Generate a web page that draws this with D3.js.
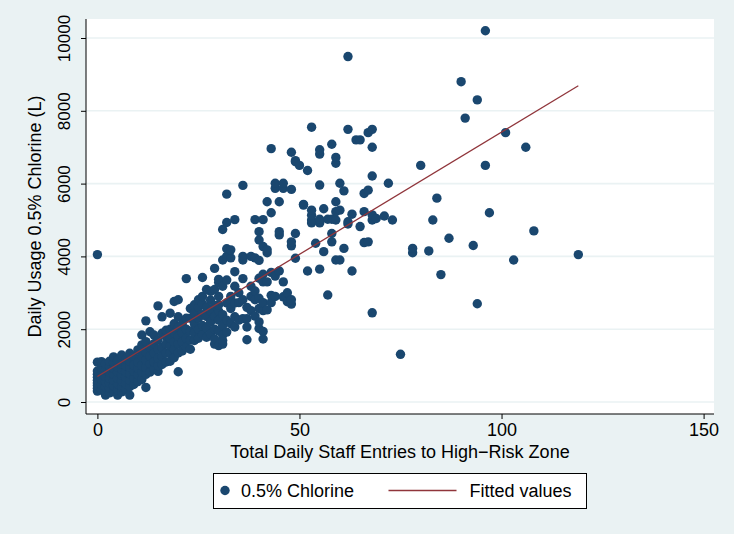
<!DOCTYPE html>
<html>
<head>
<meta charset="utf-8">
<script src="https://cdn.jsdelivr.net/npm/d3@7"></script>
<style>
  html, body { margin: 0; padding: 0; background: #EAF2F3; }
  svg { display: block; }
  text { font-family: "Liberation Sans", Arial, sans-serif; fill: #000; }
</style>
</head>
<body>
<svg id="chart" width="734" height="534"></svg>
<script>
// ---- data ----
const xTicks = [0, 50, 100, 150];
const yTicks = [0, 2000, 4000, 6000, 8000, 10000];
const xTitle = "Total Daily Staff Entries to High\u2212Risk Zone";
const yTitle = "Daily Usage 0.5% Chlorine (L)";
const seriesNames = ["0.5% Chlorine", "Fitted values"];
// fitted regression line endpoints [entries, litres]
const fittedX = [0, 119];
const fittedY = [700, 8690];
// observations: [total daily staff entries, daily usage (L)]
const chlorine = [
[0,300],[0,380],[0,450],[0,520],[0,600],[0,680],[0,760],[0,850],[0,1095],[0,4050],
[1,330],[1,480],[1,620],[1,780],[1,950],[1,1110],
[2,190],[2,300],[2,420],[2,560],[2,700],[2,880],[2,1050],
[3,250],[3,380],[3,520],[3,650],[3,820],[3,980],[3,1120],
[4,300],[4,450],[4,600],[4,760],[4,920],[4,1080],[4,1240],
[5,190],[5,330],[5,500],[5,650],[5,820],[5,960],[5,1150],
[6,280],[6,420],[6,580],[6,740],[6,900],[6,1050],[6,1290],
[7,350],[7,500],[7,680],[7,830],[7,1000],[7,1180],
[8,190],[8,420],[8,600],[8,780],[8,950],[8,1120],[8,1340],
[9,480],[9,650],[9,850],[9,1020],[9,1250],
[10,560],[10,750],[10,930],[10,1100],[10,1430],
[11,620],[11,820],[11,1000],[11,1250],[11,1570],[11,1840],
[12,400],[12,760],[12,950],[12,1150],[12,1380],[12,1660],[12,2230],
[13,820],[13,1050],[13,1250],[13,1500],[13,1930],
[14,900],[14,1100],[14,1350],[14,1600],[14,1840],
[15,840],[15,1000],[15,1200],[15,1450],[15,1700],[15,2640],
[16,1030],[16,1250],[16,1500],[16,1890],[16,2340],
[17,1100],[17,1350],[17,1600],[17,1800],[17,1970],
[18,1120],[18,1350],[18,1550],[18,1750],[18,2000],[18,2440],
[19,1220],[19,1450],[19,1650],[19,1900],[19,2150],[19,2760],
[20,830],[20,1350],[20,1600],[20,1800],[20,2050],[20,2340],[20,2810],
[21,1400],[21,1650],[21,1900],[21,2150],
[22,1500],[22,1750],[22,2000],[22,2300],[22,3390],
[23,1450],[23,1700],[23,1950],[23,2300],[23,2570],
[24,1690],[24,1900],[24,2150],[24,2450],[24,2670],
[25,1750],[25,2000],[25,2300],[25,2600],[25,2810],
[26,1850],[26,2100],[26,2400],[26,2700],[26,2900],[26,3420],
[27,1780],[27,2040],[27,2350],[27,2600],[27,3090],
[28,1870],[28,2200],[28,2500],[28,2800],[28,3040],
[29,1590],[29,1730],[29,2000],[29,2350],[29,2650],[29,3090],[29,3670],
[30,1550],[30,1950],[30,2250],[30,2500],[30,2670],[30,2900],[30,3280],[30,3370],
[31,1590],[31,1690],[31,1840],[31,2100],[31,2400],[31,3180],[31,3900],[31,4740],
[32,1920],[32,2250],[32,2720],[32,3350],[32,4000],[32,4210],[32,4930],[32,5710],
[33,2150],[33,2570],[33,2900],[33,3960],[33,4180],
[34,2060],[34,2340],[34,2720],[34,3180],[34,3580],[34,5010],
[35,2250],[35,2730],[35,3000],
[36,2290],[36,2810],[36,3390],[36,3900],[36,4000],[36,5950],
[37,1710],[37,2060],[37,2290],[37,2600],
[38,2510],[38,2900],[38,3180],[38,4000],
[39,2360],[39,2810],[39,3050],[39,3960],[39,5010],
[40,2020],[40,2200],[40,2570],[40,2850],[40,3400],[40,3890],[40,4450],[40,4680],
[41,1730],[41,1940],[41,2510],[41,2730],[41,3300],[41,3510],[41,4270],[41,5010],
[42,2530],[42,3300],[42,4100],[42,4180],[42,5500],
[43,2730],[43,2930],[43,3560],[43,5200],[43,6960],
[44,2900],[44,3460],[44,5870],[44,6010],
[45,3600],[45,4590],[45,4680],[45,5500],
[46,2890],[46,3300],[46,5870],[46,6010],
[47,2755],[47,3000],
[48,2690],[48,2810],[48,4290],[48,4400],[48,5840],[48,6860],
[49,3950],[49,4630],[49,6600],[49,6630],
[50,6500],
[51,5410],[51,5430],
[52,3600],[52,6360],
[53,4920],[53,5000],[53,5130],[53,5270],[53,7550],
[54,4360],
[55,3650],[55,4920],[55,5020],[55,5960],[55,6810],[55,6930],
[56,4130],[56,5310],
[57,2940],[57,5020],
[58,4400],[58,4630],[58,5020],[58,7080],
[59,3900],[59,5000],[59,5230],[59,5500],[59,6560],[59,6720],
[60,3900],[60,5270],[60,6010],
[61,4220],[61,5800],
[62,4890],[62,4950],[62,7490],[62,9490],
[63,3600],[63,5160],
[64,7200],
[65,4820],[65,7200],
[66,4380],[66,5230],[66,5730],
[67,4400],[67,5820],[67,7400],
[68,2450],[68,5000],[68,5140],[68,6210],[68,7000],[68,7490],
[69,5040],
[71,5110],
[72,6010],
[73,5000],
[75,1310],
[78,4100],[78,4220],
[80,6500],
[82,4150],
[83,5000],
[84,5600],
[85,3500],
[87,4500],
[90,8800],
[91,7800],
[93,4300],
[94,2700],[94,8300],
[96,6500],[96,10200],
[97,5200],
[101,7400],
[103,3900],
[106,7000],
[108,4700],
[119,4050]
];

// ---- drawing ----
const svg = d3.select("#chart");
const W = 734, H = 534;
const plot = { left: 86, right: 714, top: 19, bottom: 414 };
const navy = "#1A476F", maroon = "#90353B", bluishGray = "#EAF2F3";

const x = d3.scaleLinear().domain([0, 150]).range([97.4, 703.6]);
const y = d3.scaleLinear().domain([0, 10000]).range([402, 38]);

svg.append("rect").attr("width", W).attr("height", H).attr("fill", bluishGray);
svg.append("rect")
  .attr("x", plot.left).attr("y", plot.top)
  .attr("width", plot.right - plot.left).attr("height", plot.bottom - plot.top)
  .attr("fill", "#fff");

// gridlines
svg.append("g").selectAll("line").data(yTicks).join("line")
  .attr("x1", plot.left).attr("x2", plot.right)
  .attr("y1", d => y(d)).attr("y2", d => y(d))
  .attr("stroke", bluishGray).attr("stroke-width", 1.6);

// points
svg.append("g").selectAll("circle").data(chlorine).join("circle")
  .attr("cx", d => x(d[0])).attr("cy", d => y(d[1]))
  .attr("r", 4.7).attr("fill", navy);

// fitted line
svg.append("line")
  .attr("x1", x(fittedX[0])).attr("y1", y(fittedY[0]))
  .attr("x2", x(fittedX[1])).attr("y2", y(fittedY[1]))
  .attr("stroke", maroon).attr("stroke-width", 1.3);

// x axis
const xAxis = d3.axisBottom(x).tickValues(xTicks).tickSize(5).tickPadding(4).tickFormat(d3.format("d"));
const gx = svg.append("g").attr("transform", `translate(0,${plot.bottom})`).call(xAxis);
gx.select(".domain").remove();
gx.append("line").attr("x1", plot.left).attr("x2", plot.right).attr("y1", 0).attr("y2", 0)
  .attr("stroke", "#000").attr("stroke-width", 1);
gx.selectAll(".tick line").attr("stroke", "#000");
gx.selectAll(".tick text").attr("font-size", 18).attr("fill", "#000")
  .attr("font-family", "'Liberation Sans', Arial, sans-serif");

// y axis
const yAxis = d3.axisLeft(y).tickValues(yTicks).tickSize(5).tickFormat(d3.format("d"));
const gy = svg.append("g").attr("transform", `translate(${plot.left},0)`).call(yAxis);
gy.select(".domain").remove();
gy.append("line").attr("x1", 0).attr("x2", 0).attr("y1", plot.top).attr("y2", plot.bottom)
  .attr("stroke", "#000").attr("stroke-width", 1);
gy.selectAll(".tick line").attr("stroke", "#000");
gy.selectAll(".tick text")
  .attr("font-size", 17).attr("fill", "#000")
  .attr("font-family", "'Liberation Sans', Arial, sans-serif")
  .attr("x", null).attr("dy", null)
  .attr("text-anchor", "middle")
  .attr("transform", "translate(-16,0) rotate(-90)");

// axis titles
svg.append("text").attr("x", (plot.left + plot.right) / 2).attr("y", 458)
  .attr("text-anchor", "middle").attr("font-size", 18).text(xTitle);
svg.append("text")
  .attr("transform", `translate(41,${(plot.top + plot.bottom) / 2}) rotate(-90)`)
  .attr("text-anchor", "middle").attr("font-size", 18).text(yTitle);

// legend
const lg = svg.append("g");
lg.append("rect").attr("x", 213.5).attr("y", 473.5).attr("width", 373).attr("height", 35)
  .attr("fill", "#fff").attr("stroke", "#000").attr("stroke-width", 1);
lg.append("circle").attr("cx", 225).attr("cy", 490.5).attr("r", 4.7).attr("fill", navy);
lg.append("text").attr("x", 241).attr("y", 497).attr("font-size", 18).text(seriesNames[0]);
lg.append("line").attr("x1", 388.5).attr("x2", 456.5).attr("y1", 490.5).attr("y2", 490.5)
  .attr("stroke", maroon).attr("stroke-width", 1.3);
lg.append("text").attr("x", 469.5).attr("y", 497).attr("font-size", 18).text(seriesNames[1]);
</script>
</body>
</html>
